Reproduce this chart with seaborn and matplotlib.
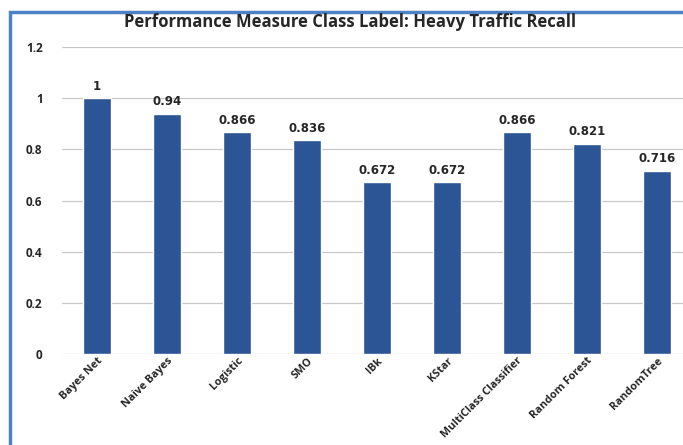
import matplotlib
matplotlib.use("Agg")
import matplotlib.pyplot as plt
import seaborn as sns
import pandas as pd
from matplotlib.patches import Rectangle

categories = ["Bayes Net", "Naive Bayes", "Logistic", "SMO", "IBk", "KStar",
              "MultiClass Classifier", "Random Forest", "RandomTree"]
values = [1, 0.94, 0.866, 0.836, 0.672, 0.672, 0.866, 0.821, 0.716]
value_labels = ["1", "0.94", "0.866", "0.836", "0.672", "0.672", "0.866", "0.821", "0.716"]
yticks = [0, 0.2, 0.4, 0.6, 0.8, 1, 1.2]
ytick_labels = ["0", "0.2", "0.4", "0.6", "0.8", "1", "1.2"]
title = "Performance Measure Class Label: Heavy Traffic Recall"

sns.set_style("white")
plt.rcParams['font.family'] = ['Open Sans', 'DejaVu Sans']

df = pd.DataFrame({"cat": categories, "val": values})

fig = plt.figure(figsize=(6.83, 4.45), dpi=100)
ax = fig.add_axes([62/683, 1-354/445, 9*70/683, (354-47)/445])

sns.barplot(data=df, x="cat", y="val", color="#2b5595", width=0.39, ax=ax,
            saturation=1)
ax.set_xlim(-0.5, 8.5)
ax.set_ylim(0, 1.2)
ax.set_yticks(yticks)
ax.set_yticklabels(ytick_labels, fontsize=8.5, fontweight="bold")
ax.grid(axis="y", color="#c8c8c8", linewidth=0.9)
ax.set_axisbelow(True)
for s in ax.spines.values():
    s.set_visible(False)
ax.tick_params(axis="y", length=0, pad=14)
ax.tick_params(axis="x", length=0, pad=1)
ax.set_xticks(range(len(categories)))
ax.set_xticklabels(categories, rotation=45, ha="right", rotation_mode="anchor",
                   fontsize=7.8, fontweight="bold")
ax.set_xlabel("")
ax.set_ylabel("")

for i, (v, lab) in enumerate(zip(values, value_labels)):
    ax.annotate(lab, (i, v), xytext=(0, 4), textcoords="offset points",
                ha="center", va="bottom", fontsize=8.5, fontweight="bold",
                family="DejaVu Sans")

fig.text(350/683, 1-22/445, title, ha="center", va="center",
         fontsize=12, fontweight="bold")

fig.patches.append(Rectangle((10/683, -0.1), 1.2, 1 - 12/445 + 0.1,
                             transform=fig.transFigure, fill=False,
                             edgecolor="#4f81c7", linewidth=2.5))

fig.savefig("out.png", dpi=100)
